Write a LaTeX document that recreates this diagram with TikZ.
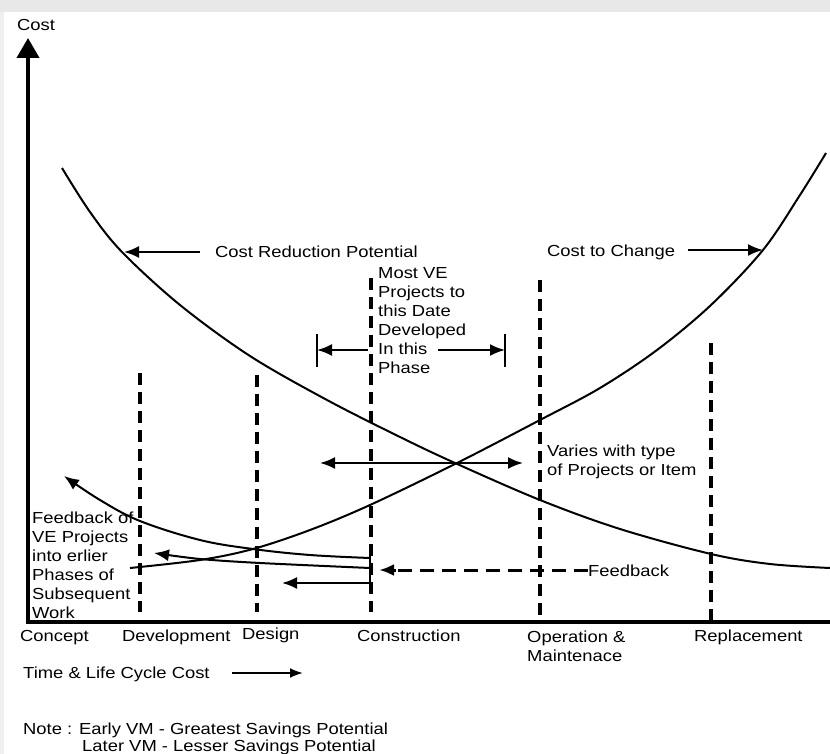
\documentclass[tikz,border=0pt]{standalone}
\usepackage{fontspec}
\setmainfont{Liberation Sans}[FakeStretch=1.15]
\usetikzlibrary{arrows.meta}
\begin{document}
\begin{tikzpicture}[x=1pt,y=-1pt,
  axis/.style={line width=4pt},
  phase/.style={line width=3.2pt, dash pattern=on 12pt off 7pt},
  curve/.style={line width=2pt},
  pointer/.style={line width=2pt, -{Latex[length=15pt,width=12pt]}},
  barline/.style={line width=2.4pt},
  lbl/.style={inner sep=0pt, anchor=base west, align=left,
    font=\fontsize{16}{19}\selectfont},
]
% page and scanned frame edge
\useasboundingbox (0,0) rectangle (830,754);
\fill[white] (0,0) rectangle (830,754);
\fill[gray!18] (0,0) rectangle (830,12);
\fill[gray!12] (0,12) rectangle (4,754);

% axes
\coordinate (origin) at (28,622);
\coordinate (ytop) at (28,38);
\coordinate (xend) at (830,622);
\draw[axis, -{Triangle[length=20pt,width=22pt]}] (origin) -- (ytop);
\draw[axis] (26,622) -- (xend);
\node[lbl] (ylabel) at (17,31) {Cost};

% phase boundaries
\draw[phase] (140,373) -- (140,612);
\draw[phase] (257,375) -- (257,612);
\draw[phase] (371,278) -- (371,612);
\draw[phase] (540,280) -- (540,616);
\draw[phase] (711,343) -- (711,622);

% cost reduction potential (falling) and cost to change (rising)
\draw[curve] plot[smooth, tension=0.55] coordinates {(62,168) (90,212) (122,252) (180,305)
  (250,356) (327,400) (400,437) (455,463) (540,500) (620,529) (711,554) (770,564) (830,568)};
\draw[curve] plot[smooth, tension=0.55] coordinates {(130,568) (200,560) (253,549) (310,530)
  (370,505) (457,463) (540,420) (600,388) (657,350) (711,305) (763,250) (800,195) (826,153)};

% curve labels
\node[lbl] (crp) at (215,258) {Cost Reduction Potential};
\coordinate (crpTail) at (200,252);
\coordinate (crpTip) at (124,252);
\draw[pointer] (crpTail) -- (crpTip);
\node[lbl] (ctc) at (547,256) {Cost to Change};
\coordinate (ctcTail) at (688,250);
\coordinate (ctcTip) at (763,250);
\draw[pointer] (ctcTail) -- (ctcTip);

% most VE projects developed in construction phase
\node[lbl] (mostve) at (378,373) {Most VE\\Projects to\\this Date\\Developed\\In this \\Phase};
\coordinate (phL) at (317,350);
\coordinate (phR) at (505,350);
\draw[pointer] (368,350) -- (phL);
\draw[pointer] (438,350) -- (phR);
\draw[barline] (317,334) -- (317,367);
\draw[barline] (505,334) -- (505,367);

% crossing point range
\coordinate (varL) at (320,463);
\coordinate (varR) at (523,463);
\draw[line width=2pt, {Latex[length=15pt,width=12pt]}-{Latex[length=15pt,width=12pt]}] (varL) -- (varR);
\node[lbl] (varies) at (547,475) {Varies with type\\of Projects or Item};

% feedback of VE projects into earlier phases
\coordinate (fbStart) at (370,558);
\coordinate (fbTip) at (64,476);
\draw[curve, -{Latex[length=15pt,width=12pt]}] plot[smooth, tension=0.6] coordinates {(fbStart) (310,555)
  (253,549) (200,540) (140,521) (100,500) (fbTip)};
\draw[barline] (370,550) -- (370,566);
\coordinate (fb2Start) at (370,568);
\coordinate (fb2Tip) at (154,553);
\draw[curve, -{Latex[length=15pt,width=12pt]}] plot[smooth, tension=0.5] coordinates {(fb2Start) (260,563) (200,559) (fb2Tip)};
\coordinate (fb3Start) at (370,583);
\coordinate (fb3Tip) at (282,583);
\draw[pointer] (fb3Start) -- (fb3Tip);
\draw[barline] (370,575) -- (370,591);
\node[lbl] (fbnote) at (32,618) {Feedback of\\VE Projects\\into erlier\\Phases of\\Subsequent\\Work};

% feedback from operation
\node[lbl] (feedback) at (588,576) {Feedback};
\coordinate (fdTip) at (379,570);
\draw[line width=3pt, dash pattern=on 14pt off 8pt] (feedback.west |- 0,570) -- (395,570);
\draw[line width=3pt, -{Latex[length=15pt,width=12pt]}] (396,570) -- (fdTip);

% phases on the time axis
\node[lbl] (concept) at (20,641) {Concept};
\node[lbl] (develop) at (122,641) {Development};
\node[lbl] (design) at (242,639) {Design};
\node[lbl] (construct) at (357,641) {Construction};
\node[lbl] (operation) at (527,661) {Operation \&\\Maintenace};
\node[lbl] (replace) at (694,641) {Replacement};

% time axis caption and note
\node[lbl] (timecap) at (23,678) {Time \& Life Cycle Cost};
\coordinate (tcTail) at (232,673);
\coordinate (tcTip) at (303,673);
\draw[line width=2pt, -{Latex[length=13pt,width=10pt]}] (tcTail) -- (tcTip);
\node[lbl] (note1) at (23,734) {Note : Early VM - Greatest Savings Potential};
\node[lbl] (note2) at (82,751) {Later VM - Lesser Savings Potential};
\end{tikzpicture}
\end{document}
